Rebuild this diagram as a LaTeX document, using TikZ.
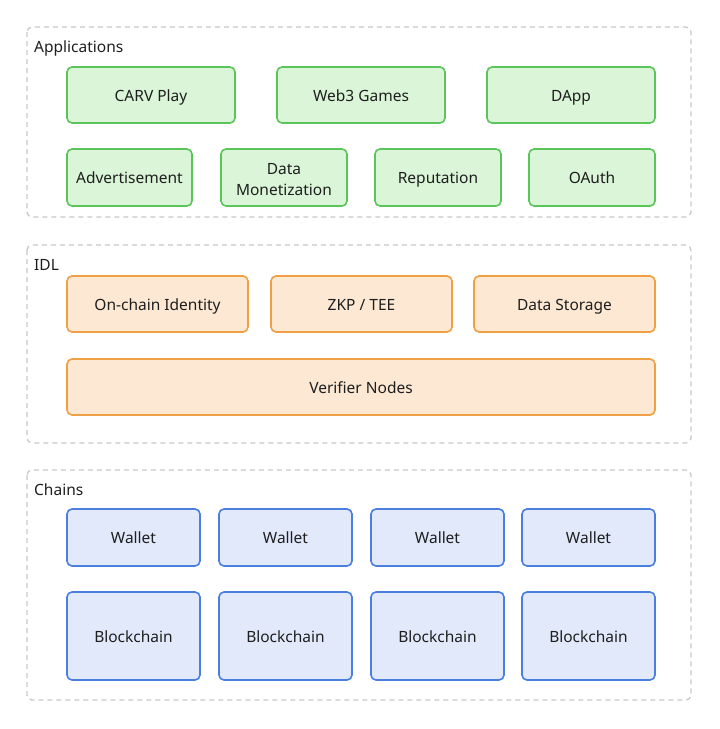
\documentclass[tikz,border=0pt]{standalone}
\usepackage{fontspec}
\setmainfont{Noto Sans}
\definecolor{gfill}{HTML}{DAF5D7}
\definecolor{gline}{HTML}{5CC55A}
\definecolor{ofill}{HTML}{FCE8D3}
\definecolor{oline}{HTML}{EFA044}
\definecolor{bfill}{HTML}{E1E9FB}
\definecolor{bline}{HTML}{4A7FE0}
\definecolor{dline}{HTML}{C8C8C8}
\definecolor{txt}{HTML}{1E1E1E}
\begin{document}
\begin{tikzpicture}[x=1pt,y=-1pt,
  container/.style={draw=dline,line width=1.3pt,dash pattern=on 5pt off 4pt,rounded corners=5pt},
  grp/.style={anchor=west,font=\fontsize{15.5}{18}\selectfont,text=txt,inner sep=0pt,text height=11pt,text depth=3pt},
  gbox/.style={draw=gline,fill=gfill,line width=1.6pt,rounded corners=5pt},
  obox/.style={draw=oline,fill=ofill,line width=1.6pt,rounded corners=5pt},
  bbox/.style={draw=bline,fill=bfill,line width=1.6pt,rounded corners=5pt},
  lbl/.style={font=\fontsize{15.5}{21}\selectfont,text=txt,inner sep=0pt,text height=14.5pt,text depth=2pt},
  lbl2/.style={font=\fontsize{15.5}{21}\selectfont,text=txt,align=center,inner sep=0pt}]
\useasboundingbox (0,0) rectangle (720,729);
% containers
\draw[container] (27,27) rectangle (691,217);
\draw[container] (27,245) rectangle (691,443);
\draw[container] (27,470) rectangle (691,700);
\node[grp] (tApp) at (34,48) {Applications};
\node[grp] (tIDL) at (34,266) {IDL};
\node[grp] (tCh) at (34,491) {Chains};
\newcommand{\mybox}[7]{\draw[#1] (#2,#3) rectangle (#4,#5); \node[lbl] (#6) at ({(#2+#4)/2},{(#3+#5)/2}) {#7};}
% applications
\mybox{gbox}{67}{67}{235}{123}{a1}{CARV Play}
\mybox{gbox}{277}{67}{445}{123}{a2}{Web3 Games}
\mybox{gbox}{487}{67}{655}{123}{a3}{DApp}
\mybox{gbox}{67}{149}{192}{206}{a4}{Advertisement}
\draw[gbox] (221,149) rectangle (347,206);
\node[lbl2] (a5) at (284,179.5) {Data\\Monetization};
\mybox{gbox}{375}{149}{501}{206}{a6}{Reputation}
\mybox{gbox}{529}{149}{655}{206}{a7}{OAuth}
% IDL
\mybox{obox}{67}{276}{248}{332}{i1}{On-chain Identity}
\mybox{obox}{271}{276}{452}{332}{i2}{ZKP / TEE}
\mybox{obox}{474}{276}{655}{332}{i3}{Data Storage}
\mybox{obox}{67}{359}{655}{415}{i4}{Verifier Nodes}
% chains
\mybox{bbox}{67}{509}{200}{566}{w1}{Wallet}
\mybox{bbox}{219}{509}{352}{566}{w2}{Wallet}
\mybox{bbox}{371}{509}{504}{566}{w3}{Wallet}
\mybox{bbox}{522}{509}{655}{566}{w4}{Wallet}
\mybox{bbox}{67}{592}{200}{680}{b1}{Blockchain}
\mybox{bbox}{219}{592}{352}{680}{b2}{Blockchain}
\mybox{bbox}{371}{592}{504}{680}{b3}{Blockchain}
\mybox{bbox}{522}{592}{655}{680}{b4}{Blockchain}
\end{tikzpicture}
\end{document}
